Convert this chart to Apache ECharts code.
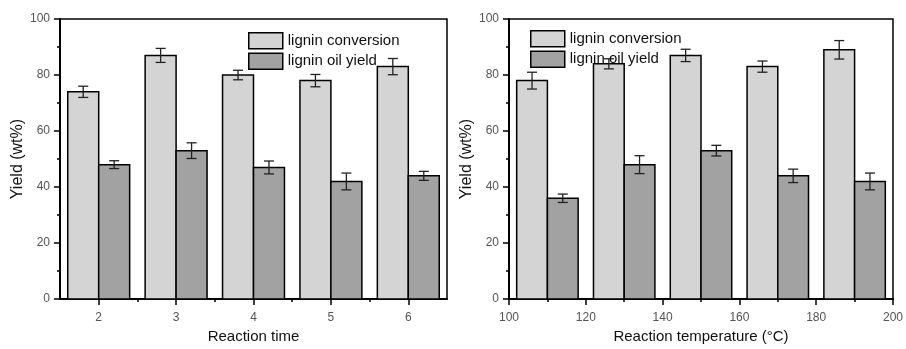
<!DOCTYPE html>
<html>
<head>
<meta charset="utf-8">
<script src="https://cdn.jsdelivr.net/npm/echarts@6/dist/echarts.min.js"></script>
<style>
  html, body { margin: 0; padding: 0; background: #fff; }
  #chart { width: 906px; height: 349px; }
</style>
</head>
<body>
<div id="chart"></div>
<script>
// left panel: reaction time
const timeCats = [2, 3, 4, 5, 6];
const timeConv = [74, 87, 80, 78, 83];
const timeConvErr = [2, 2.5, 1.7, 2.2, 2.9];
const timeOil = [48, 53, 47, 42, 44];
const timeOilErr = [1.4, 2.8, 2.3, 3, 1.6];

// right panel: reaction temperature
const tempCats = [110, 130, 150, 170, 190];
const tempConv = [78, 84, 87, 83, 89];
const tempConvErr = [3, 1.8, 2.2, 2, 3.3];
const tempOil = [36, 48, 53, 44, 42];
const tempOilErr = [1.5, 3.2, 1.9, 2.4, 3];

const yTicks = [0, 20, 40, 60, 80, 100];
const legendNames = ['lignin conversion', 'lignin oil yield'];

const FONT = 'Liberation Sans, Arial, sans-serif';
const LIGHT = '#d4d4d4';
const DARK = '#a2a2a2';

function barSeries(name, gi, xs, ys, off0, off1, color) {
  return {
    name: name,
    type: 'custom',
    xAxisIndex: gi * 2,
    yAxisIndex: gi,
    itemStyle: { color: color, borderColor: '#000', borderWidth: 1.5 },
    data: xs.map((x, i) => [x, ys[i]]),
    renderItem: function (params, api) {
      const x = api.value(0), y = api.value(1);
      const p0 = api.coord([x + off0, y]);
      const p1 = api.coord([x + off1, 0]);
      return {
        type: 'rect',
        shape: { x: p0[0], y: p0[1], width: p1[0] - p0[0], height: p1[1] - p0[1] },
        style: { fill: color, stroke: '#000', lineWidth: 1.5 }
      };
    },
    z: 2
  };
}

function errSeries(gi, xs, ys, errs, off) {
  return {
    type: 'custom',
    xAxisIndex: gi * 2,
    yAxisIndex: gi,
    data: xs.map((x, i) => [x + off, ys[i] - errs[i], ys[i] + errs[i]]),
    renderItem: function (params, api) {
      const lo = api.coord([api.value(0), api.value(1)]);
      const hi = api.coord([api.value(0), api.value(2)]);
      const cw = 5;
      const st = { stroke: '#222', lineWidth: 1.3 };
      return {
        type: 'group',
        children: [
          { type: 'line', shape: { x1: lo[0], y1: lo[1], x2: hi[0], y2: hi[1] }, style: st },
          { type: 'line', shape: { x1: lo[0] - cw, y1: lo[1], x2: lo[0] + cw, y2: lo[1] }, style: st },
          { type: 'line', shape: { x1: hi[0] - cw, y1: hi[1], x2: hi[0] + cw, y2: hi[1] }, style: st }
        ]
      };
    },
    z: 3
  };
}

function yAxis(gi) {
  return {
    type: 'value',
    gridIndex: gi,
    min: 0, max: 100, interval: 20,
    name: 'Yield (wt%)',
    nameLocation: 'middle',
    nameGap: 34,
    nameTextStyle: { fontFamily: FONT, fontSize: 16, color: '#111' },
    axisLine: { show: true, lineStyle: { color: '#000', width: 2 } },
    axisTick: { show: true, length: 6, lineStyle: { color: '#000', width: 1.5 } },
    minorTick: { show: true, splitNumber: 2, length: 3, lineStyle: { color: '#000', width: 1.5 } },
    axisLabel: { fontFamily: FONT, fontSize: 12, color: '#555', margin: 10 },
    splitLine: { show: false }
  };
}

const chart = echarts.init(document.getElementById('chart'), null, { renderer: 'canvas' });

chart.setOption({
  animation: false,
  backgroundColor: '#fff',
  grid: [
    { left: 60, top: 19, width: 387, height: 284, show: true, borderColor: '#000', borderWidth: 1.5 },
    { left: 509, top: 19, width: 388, height: 284, show: true, borderColor: '#000', borderWidth: 1.5 }
  ],
  legend: [
    {
      data: legendNames, orient: 'vertical', left: 243, top: 27,
      icon: 'rect', itemWidth: 34, itemHeight: 16, itemGap: 3,
      itemStyle: { borderColor: '#000', borderWidth: 1.5 },
      textStyle: { fontFamily: FONT, fontSize: 15, color: '#111' }
    },
    {
      data: legendNames, orient: 'vertical', left: 525, top: 25,
      icon: 'rect', itemWidth: 34, itemHeight: 16, itemGap: 3,
      itemStyle: { borderColor: '#000', borderWidth: 1.5 },
      textStyle: { fontFamily: FONT, fontSize: 15, color: '#111' }
    }
  ],
  xAxis: [
    {
      type: 'value', gridIndex: 0, min: 1.5, max: 6.5, interval: 0.5,
      name: 'Reaction time', nameLocation: 'middle', nameGap: 29,
      nameTextStyle: { fontFamily: FONT, fontSize: 15, color: '#111' },
      axisLine: { show: true, onZero: false, lineStyle: { color: '#000', width: 2 } },
      axisTick: { show: true, length: 6, customValues: timeCats, lineStyle: { color: '#000', width: 1.5 } },
      axisLabel: { fontFamily: FONT, fontSize: 12, color: '#555', margin: 13, customValues: timeCats },
      splitLine: { show: false }
    },
    {
      type: 'value', gridIndex: 0, min: 1.5, max: 6.5, interval: 0.5, position: 'bottom',
      axisLine: { show: false },
      axisTick: { show: true, length: 3, customValues: timeCats.slice(0, -1).map(v => v + 0.5), lineStyle: { color: '#000', width: 1.5 } },
      axisLabel: { show: false },
      splitLine: { show: false }
    },
    {
      type: 'value', gridIndex: 1, min: 100, max: 200, interval: 20,
      name: 'Reaction temperature (°C)', nameLocation: 'middle', nameGap: 29,
      nameTextStyle: { fontFamily: FONT, fontSize: 15, color: '#111' },
      axisLine: { show: true, onZero: false, lineStyle: { color: '#000', width: 2 } },
      axisTick: { show: true, length: 6, lineStyle: { color: '#000', width: 1.5 } },
      minorTick: { show: true, splitNumber: 2, length: 3, lineStyle: { color: '#000', width: 1.5 } },
      axisLabel: { fontFamily: FONT, fontSize: 12, color: '#555', margin: 13, showMaxLabel: true },
      splitLine: { show: false }
    }
  ],
  yAxis: [yAxis(0), yAxis(1)],
  series: [
    barSeries(legendNames[0], 0, timeCats, timeConv, -0.4, 0, LIGHT),
    barSeries(legendNames[1], 0, timeCats, timeOil, 0, 0.4, DARK),
    errSeries(0, timeCats, timeConv, timeConvErr, -0.2),
    errSeries(0, timeCats, timeOil, timeOilErr, 0.2),
    barSeries(legendNames[0], 1, tempCats, tempConv, -8, 0, LIGHT),
    barSeries(legendNames[1], 1, tempCats, tempOil, 0, 8, DARK),
    errSeries(1, tempCats, tempConv, tempConvErr, -4),
    errSeries(1, tempCats, tempOil, tempOilErr, 4)
  ]
});
</script>
</body>
</html>
